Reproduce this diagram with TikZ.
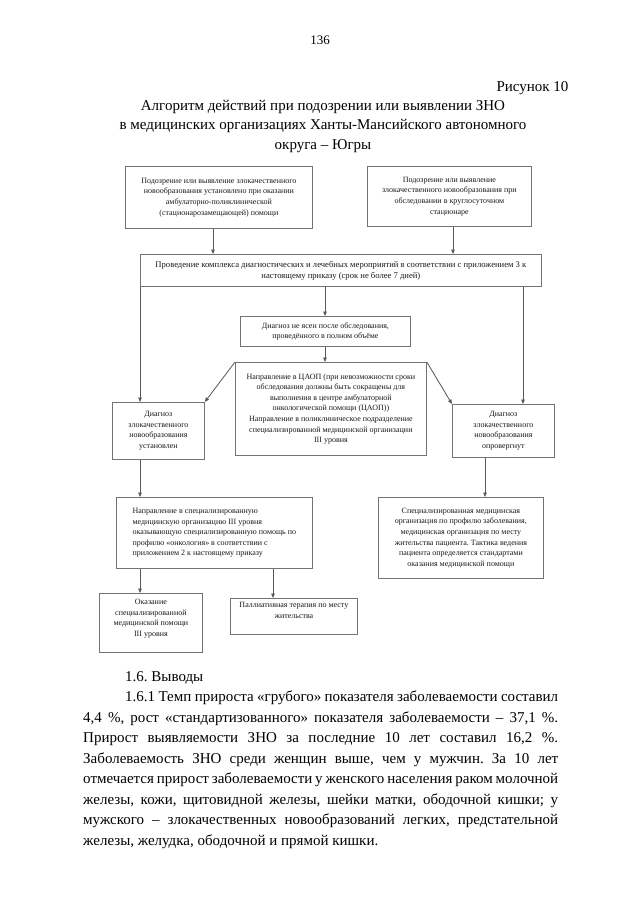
\documentclass[tikz,border=0pt]{standalone}
\usepackage{fontspec}
\setmainfont{Liberation Serif}
\usetikzlibrary{arrows.meta}
\frenchspacing
\begin{document}
\begin{tikzpicture}[x=1pt,y=-1pt,
  box/.style={draw=black!55, line width=0.8pt, anchor=north west, inner sep=1pt,
    align=center, font=\fontsize{8}{10.6}\selectfont, text=black!90},
  boxtop/.style={draw=black!55, line width=0.8pt, anchor=north west, inner sep=0pt},
  lbl/.style={anchor=north, inner sep=3pt, align=center, font=\fontsize{8}{10.6}\selectfont, text=black!90},
  arr/.style={draw=black!65, line width=0.8pt, -{Triangle[length=4.5pt,width=3.6pt]}},
  ln/.style={draw=black!65, line width=0.8pt}]
\useasboundingbox[fill=white] (0,0) rectangle (640,905);

% header
\node[anchor=base, font=\fontsize{13}{15}\selectfont] (pg) at (320,44) {136};
\node[anchor=base east, font=\fontsize{15}{19.5}\selectfont] (fig) at (572,91) {Рисунок 10};
\node[anchor=north, align=center, font=\fontsize{15}{19.5}\selectfont, inner sep=0pt] (title) at (323,100)
  {Алгоритм действий при подозрении или выявлении ЗНО\\
   в медицинских организациях Ханты-Мансийского автономного\\
   округа – Югры};

% boxes
\node[box, minimum width=187pt, minimum height=62pt] (b1) at (125,166)
  {Подозрение или выявление злокачественного\\
   новообразования установлено при оказании\\
   амбулаторно-поликлинической\\
   (стационарозамещающей) помощи};
\node[box, minimum width=164pt, minimum height=60pt] (b2) at (367,166)
  {Подозрение или выявление\\
   злокачественного новообразования при\\
   обследовании в круглосуточном\\
   стационаре};
\node[box, minimum width=401pt, minimum height=32pt, font=\fontsize{8.6}{11}\selectfont] (b3) at (140,254)
  {Проведение комплекса диагностических и лечебных мероприятий в соответствии с приложением 3 к\\
   настоящему приказу (срок не более 7 дней)};
\node[box, minimum width=170pt, minimum height=30pt] (b4) at (240,316)
  {Диагноз не ясен после обследования,\\
   проведённого в полном объёме};
\node[box, minimum width=191pt, minimum height=93pt] (b5) at (235,362)
  {Направление в ЦАОП (при невозможности сроки\\
   обследования должны быть сокращены для\\
   выполнения в центре амбулаторной\\
   онкологической помощи (ЦАОП))\\
   Направление в поликлиническое подразделение\\
   специализированной медицинской организации\\
   III уровня};
\node[box, minimum width=92pt, minimum height=57pt] (b6) at (112,402)
  {Диагноз\\
   злокачественного\\
   новообразования\\
   установлен};
\node[box, minimum width=102pt, minimum height=53pt] (b7) at (452,404)
  {Диагноз\\
   злокачественного\\
   новообразования\\
   опровергнут};
\node[box, minimum width=196pt, minimum height=71pt, align=left] (b8) at (116,497)
  {Направление в специализированную\\
   медицинскую организацию III уровня\\
   оказывающую специализированную помощь по\\
   профилю «онкология» в соответствии с\\
   приложением 2 к настоящему приказу};
\node[box, minimum width=165pt, minimum height=81pt] (b9) at (378,497)
  {Специализированная медицинская\\
   организация по профилю заболевания,\\
   медицинская организация по месту\\
   жительства пациента. Тактика ведения\\
   пациента определяется стандартами\\
   оказания медицинской помощи};
\node[boxtop, minimum width=103pt, minimum height=59pt,
  label={[lbl, inner sep=6pt]north:{Оказание\\специализированной\\медицинской помощи\\III уровня}}] (b10) at (99,593) {};
\node[boxtop, minimum width=127pt, minimum height=36pt,
  label={[lbl, inner sep=4pt]north:{Паллиативная терапия по месту\\жительства}}] (b11) at (230,598) {};

% connectors
\draw[arr] (213,0 |- b1.south) -- (213,0 |- b3.north);
\draw[arr] (453,0 |- b2.south) -- (453,0 |- b3.north);
\draw[arr] (b3.south west) -- (b3.south west |- b6.north);
\draw[arr] (523,0 |- b3.south) -- (523,0 |- b7.north);
\draw[arr] (325,0 |- b3.south) -- (325,0 |- b4.north);
\draw[arr] (325,0 |- b4.south) -- (325,0 |- b5.north);
\draw[arr] (b5.north west) -- (b6.north east);
\draw[arr] (b5.north east) -- (b7.north west);
\draw[arr] (140,0 |- b6.south) -- (140,0 |- b8.north);
\draw[arr] (485,0 |- b7.south) -- (485,0 |- b9.north);
\draw[arr] (140,0 |- b8.south) -- (140,0 |- b10.north);
\draw[arr] (273,0 |- b8.south) -- (273,0 |- b11.north);

% body text
\node[anchor=north west, text width=475pt, inner sep=0pt, align=justify,
  font=\fontsize{15}{20.5}\selectfont] (body) at (83,671)
  {\hspace*{42pt}1.6. Выводы\par
   \hspace*{42pt}1.6.1 Темп прироста «грубого» показателя заболеваемости составил\linebreak
   4,4~\%, рост «стандартизованного» показателя заболеваемости – 37,1~\%.\linebreak
   Прирост выявляемости ЗНО за последние 10 лет составил 16,2~\%.\linebreak
   Заболеваемость ЗНО среди женщин выше, чем у мужчин. За 10 лет\linebreak
   отмечается прирост заболеваемости у женского населения раком молочной\linebreak
   железы, кожи, щитовидной железы, шейки матки, ободочной кишки; у\linebreak
   мужского – злокачественных новообразований легких, предстательной\linebreak
   железы, желудка, ободочной и прямой кишки.\par};
\end{tikzpicture}
\end{document}
